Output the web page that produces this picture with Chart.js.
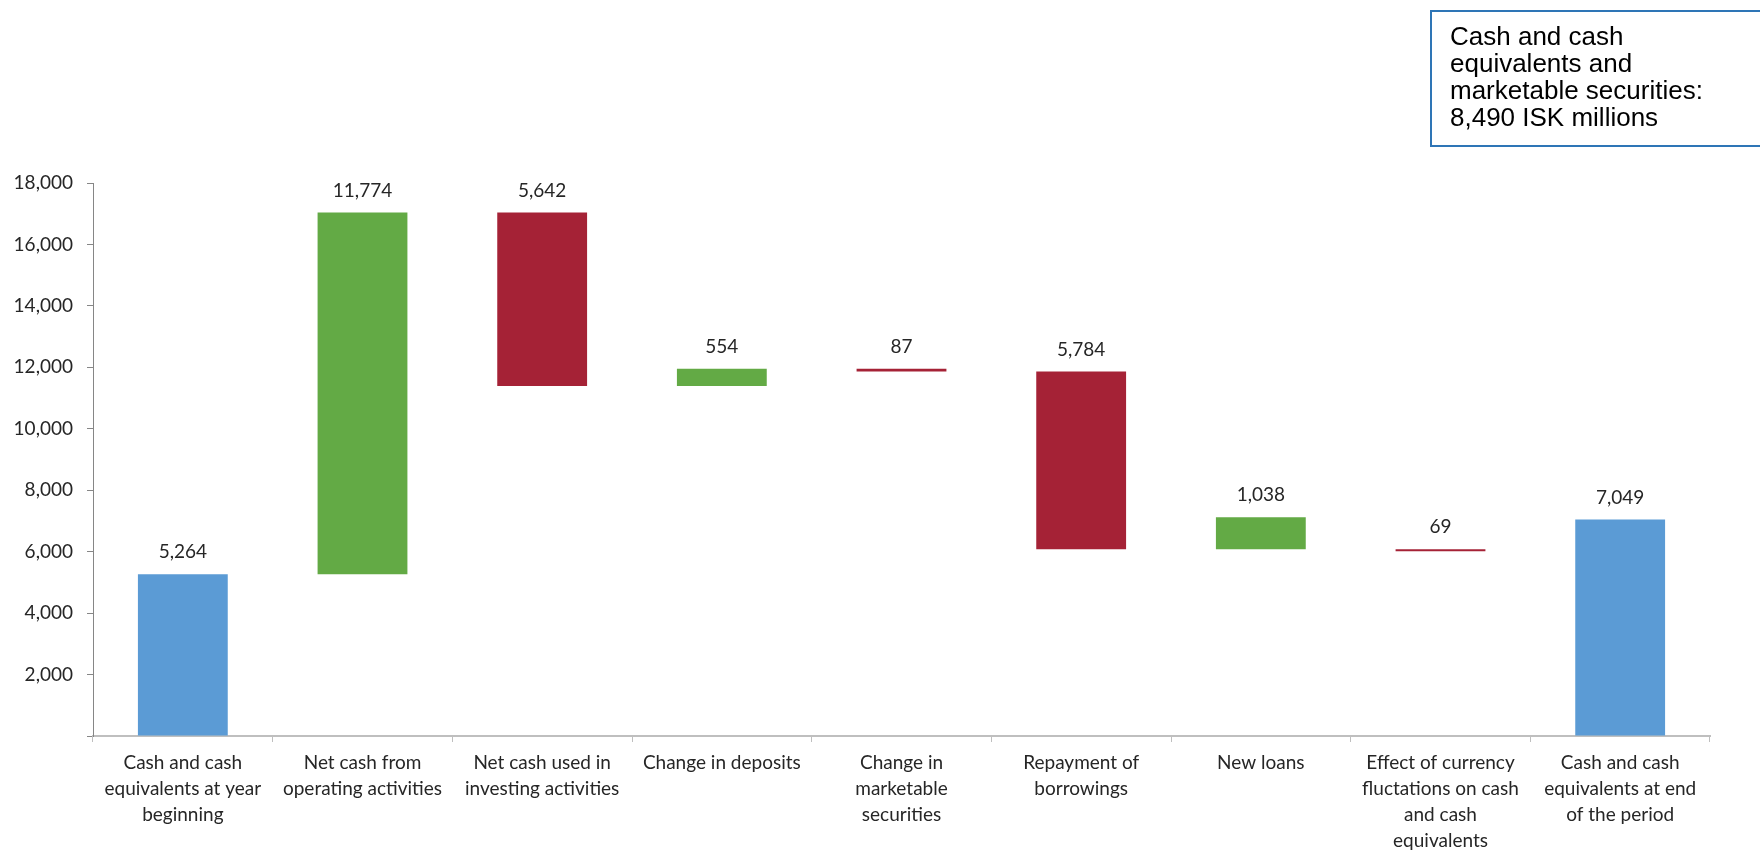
<!DOCTYPE html>
<html>
<head>
<meta charset="utf-8">
<script src="https://cdn.jsdelivr.net/npm/chart.js@4.4.1/dist/chart.umd.min.js"></script>
<style>
    body { margin: 0; background: #fff; }
    #wrap { position: relative; width: 1760px; height: 852px; overflow: hidden; }
    #note {
        position: absolute;
        left: 1430px;
        top: 10px;
        width: 400px;
        height: 137px;
        border: 2px solid #2e75b6;
        box-sizing: border-box;
        padding: 11px 0 0 18px;
        font-family: "Liberation Sans", Arial, sans-serif;
        font-size: 26px;
        line-height: 27px;
        color: #000;
    }
</style>
</head>
<body>
<div id="wrap">
    <canvas id="cash-chart" width="1760" height="852"></canvas>
    <div id="note">Cash and cash<br>equivalents and<br>marketable securities:<br>8,490 ISK millions</div>
</div>
<script>
"use strict";

// Chart data (ISK millions)
const categories = [
    ['Cash and cash', 'equivalents at year', 'beginning'],
    ['Net cash from', 'operating activities'],
    ['Net cash used in', 'investing activities'],
    ['Change in deposits'],
    ['Change in', 'marketable', 'securities'],
    ['Repayment of', 'borrowings'],
    ['New loans'],
    ['Effect of currency', 'fluctations on cash', 'and cash', 'equivalents'],
    ['Cash and cash', 'equivalents at end', 'of the period']
];
// printed value on each bar
const amounts = [5264, 11774, 5642, 554, 87, 5784, 1038, 69, 7049];
// where each bar sits
const barBottoms = [0, 5264, 11396, 11396, 11863, 6079, 6079, 6010, 0];
const barTops = [5264, 17038, 17038, 11950, 11950, 11863, 7117, 6079, 7049];
const kinds = ['total', 'up', 'down', 'up', 'down', 'down', 'up', 'down', 'total'];
const yTicks = [0, 2000, 4000, 6000, 8000, 10000, 12000, 14000, 16000, 18000];

var blueColor = '#5b9bd5';
var greenColor = '#63aa45';
var redColor = '#a52236';

const ranges = barBottoms.map((b, i) => [b, barTops[i]]);
const barColors = kinds.map(k => k === 'total' ? blueColor : (k === 'up' ? greenColor : redColor));

// Value labels above each bar
const valueLabels = {
    id: 'valueLabels',
    afterDatasetsDraw(chart) {
        const ctx = chart.ctx;
        const meta = chart.getDatasetMeta(0);
        ctx.save();
        ctx.font = '19px Lato';
        ctx.fillStyle = '#262626';
        ctx.textAlign = 'center';
        ctx.textBaseline = 'middle';
        meta.data.forEach((bar, i) => {
            const top = Math.min(bar.y, bar.base);
            ctx.fillText(amounts[i].toLocaleString('en-US'), bar.x, top - 22);
        });
        ctx.restore();
    }
};

var ctx = document.getElementById('cash-chart').getContext('2d');
new Chart(ctx, {
    type: 'bar',
    data: {
        labels: categories,
        datasets: [{
            data: ranges,
            backgroundColor: barColors,
            borderWidth: 0,
            categoryPercentage: 1,
            barPercentage: 0.5
        }]
    },
    options: {
        responsive: false,
        animation: false,
        layout: {
            padding: { top: 183, right: 50, left: 0, bottom: 0 }
        },
        plugins: {
            legend: { display: false },
            tooltip: { enabled: false }
        },
        scales: {
            x: {
                grid: {
                    drawOnChartArea: false,
                    drawTicks: true,
                    tickLength: 6,
                    color: '#bfbfbf',
                    offset: true
                },
                border: { color: '#bfbfbf', width: 2 },
                ticks: {
                    autoSkip: false,
                    maxRotation: 0,
                    padding: 8,
                    color: '#262626',
                    font: { family: 'Lato', size: 19, lineHeight: 26 / 19 }
                },
                afterFit: (scale) => { scale.height = 116; }
            },
            y: {
                min: 0,
                max: 18000,
                afterBuildTicks: (scale) => { scale.ticks = yTicks.map(v => ({ value: v })); },
                grid: {
                    drawOnChartArea: false,
                    drawTicks: true,
                    tickLength: 6,
                    color: '#868686'
                },
                border: { color: '#868686', width: 1 },
                ticks: {
                    padding: 14,
                    color: '#262626',
                    font: { family: 'Lato', size: 19 },
                    callback: (v) => v === 0 ? '' : v.toLocaleString('en-US')
                },
                afterFit: (scale) => { scale.width = 93; }
            }
        }
    },
    plugins: [valueLabels]
});
</script>
</body>
</html>
